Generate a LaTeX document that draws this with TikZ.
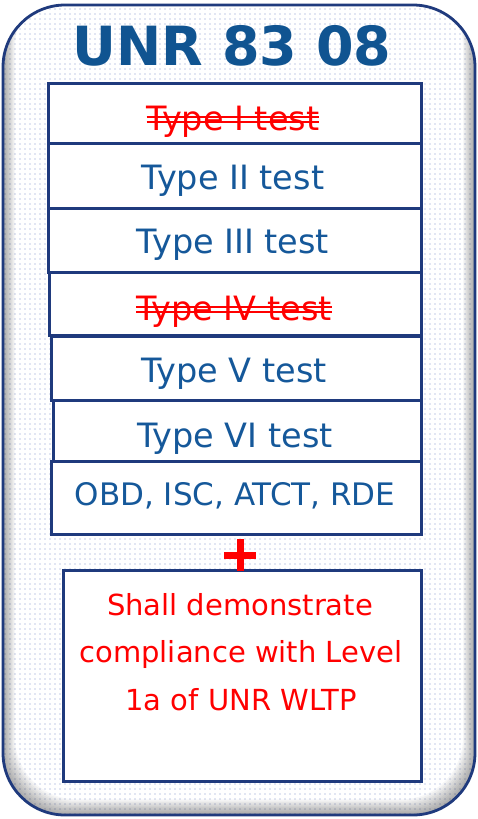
\documentclass[tikz,border=0pt]{standalone}
\usepackage{fontspec}
\setmainfont{DejaVu Sans}
\usetikzlibrary{patterns.meta}
\definecolor{navy}{RGB}{31,58,125}
\definecolor{textblue}{RGB}{21,88,154}
\definecolor{titleblue}{RGB}{16,84,145}
\definecolor{dotblue}{RGB}{130,150,205}
\tikzset{
  box/.style={draw=navy, line width=2.5pt, fill=white, inner sep=0pt, anchor=north west},
  btext/.style={text=textblue, inner sep=0pt, anchor=base, font=\fontsize{33.5}{33.5}\selectfont},
  stext/.style={text=red, inner sep=0pt, anchor=base, font=\fontsize{33.5}{33.5}\selectfont},
  rtext/.style={text=red, inner sep=0pt, anchor=base, font=\fontsize{29}{29}\selectfont},
  strike/.style={red, line width=1.7pt},
  frame/.style={draw=navy, line width=2.8pt, rounded corners=62pt}
}
\begin{document}
\begin{tikzpicture}[x=1pt,y=-1pt]
\useasboundingbox (0,0) rectangle (478,819);
% outer panel
\begin{scope}
  \clip[rounded corners=62pt] (3,5) rectangle (475,815);
  \fill[white] (0,0) rectangle (478,819);
  \fill[pattern={Dots[distance=5pt,radius=0.7pt]}, pattern color=dotblue] (0,0) rectangle (478,819);
  \foreach \d in {1,...,12}{
    \fill[black, opacity=0.03, even odd rule, rounded corners=62pt]
      (-10,-40) rectangle (490,830) (3+\d,-15) rectangle (475-\d,815-1.3*\d);
  }
\end{scope}
\draw[frame] (3,5) rectangle (475,815);
% title
\node[text=titleblue, inner sep=0pt, anchor=base, font=\bfseries\fontsize{54}{54}\selectfont] (title) at (232,65) {UNR 83 08};
% boxes
\node[box, minimum width=373pt, minimum height=60pt] (b1) at (47,82) {};
\node[box, minimum width=373pt, minimum height=65pt] (b2) at (47,142) {};
\node[box, minimum width=373pt, minimum height=64pt] (b3) at (47,207) {};
\node[box, minimum width=372pt, minimum height=63pt] (b4) at (48,271) {};
\node[box, minimum width=370pt, minimum height=64pt] (b5) at (50,335) {};
\node[box, minimum width=368pt, minimum height=61pt] (b6) at (52,399) {};
\node[box, minimum width=370pt, minimum height=73pt] (b7) at (50,460) {};
\node[box, minimum width=358pt, minimum height=211pt] (b8) at (62,569) {};
% texts
\node[stext] (t1) at (233,130) {Type I test};
\draw[strike] ([yshift=7.7pt]t1.base west) -- ([yshift=7.7pt]t1.base east);
\draw[strike] ([yshift=13.3pt]t1.base west) -- ([yshift=13.3pt]t1.base east);
\node[btext] (t2) at (233,189) {Type II test};
\node[btext] (t3) at (233,253) {Type III test};
\node[stext] (t4) at (234,320) {Type IV test};
\draw[strike] ([yshift=7.7pt]t4.base west) -- ([yshift=7.7pt]t4.base east);
\draw[strike] ([yshift=12.8pt]t4.base west) -- ([yshift=12.8pt]t4.base east);
\node[btext] (t5) at (234,382) {Type V test};
\node[btext] (t6) at (235,447) {Type VI test};
\node[btext, font=\fontsize{31}{31}\selectfont] (t7) at (235,505) {OBD, ISC, ATCT, RDE};
% plus
\coordinate (plus) at (240,555);
\draw[red, line width=7pt] ([xshift=-16pt]plus) -- ([xshift=16pt]plus);
\draw[red, line width=7pt] ([yshift=16pt]plus) -- ([yshift=-16pt]plus);
% red text
\node[rtext] (s1) at (240,615) {Shall demonstrate};
\node[rtext] (s2) at (241,662) {compliance with Level};
\node[rtext] (s3) at (241,710) {1a of UNR WLTP};
\end{tikzpicture}
\end{document}
